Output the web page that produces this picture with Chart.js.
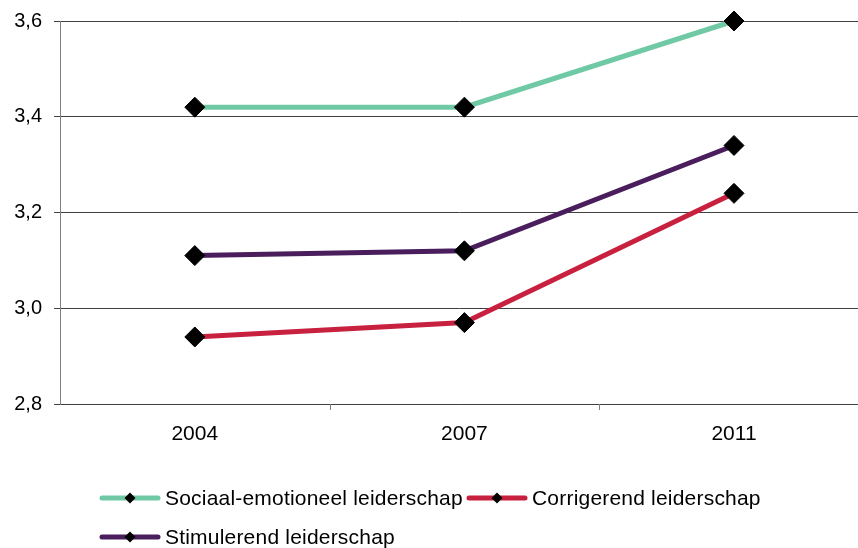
<!DOCTYPE html>
<html>
<head>
<meta charset="utf-8">
<script src="https://cdn.jsdelivr.net/npm/chart.js@4.4.1/dist/chart.umd.min.js"></script>
<style>
  html, body { margin: 0; padding: 0; background: #fff; overflow: hidden; }
  #wrap { position: relative; width: 858px; height: 548px; }
  #legend { position: absolute; left: 0; top: 0; width: 858px; height: 548px; pointer-events: none;
            font-family: "Liberation Sans", Arial, sans-serif; font-size: 21px; letter-spacing: 0.2px; color: #000; }
  .item { position: absolute; display: flex; align-items: center; white-space: nowrap; }
  .item canvas { margin-right: 4px; }
</style>
</head>
<body>
<div id="wrap">
  <canvas id="chart" width="858" height="548"></canvas>
  <div id="legend"></div>
</div>
<script>
// Survey years and mean scores per leadership style
const years = ['2004', '2007', '2011'];
const sociaalEmotioneel = [3.42, 3.42, 3.60];
const corrigerend = [2.94, 2.97, 3.24];
const stimulerend = [3.11, 3.12, 3.34];
const yTicks = [2.8, 3.0, 3.2, 3.4, 3.6];

const seriesNames = ['Sociaal-emotioneel leiderschap', 'Corrigerend leiderschap', 'Stimulerend leiderschap'];
const seriesColors = ['#6FC9A5', '#C8203F', '#4A1E5C'];
const seriesValues = [sociaalEmotioneel, corrigerend, stimulerend];

const FONT = '"Liberation Sans", Arial, sans-serif';

// years sit in the middle of equal-width slots; the last slot runs past the right edge
const X_MIN = -0.5;
const X_MAX = 2.46;

const datasets = seriesValues.map((vals, i) => ({
  label: seriesNames[i],
  data: vals.map((v, k) => ({ x: k, y: v })),
  borderColor: seriesColors[i],
  backgroundColor: '#000',
  borderWidth: 5,
  pointStyle: 'rectRot',
  pointRadius: 10,
  pointBorderWidth: 1,
  pointBorderColor: '#000',
  pointBackgroundColor: '#000',
  tension: 0,
  fill: false,
  clip: false
}));

// short tick marks on the category axis, between the year slots
const slotTicks = {
  id: 'slotTicks',
  afterDraw(chart) {
    const sx = chart.scales.x;
    const ctx = chart.ctx;
    const y0 = chart.chartArea.bottom;
    ctx.save();
    ctx.strokeStyle = '#808080';
    ctx.lineWidth = 1;
    for (let k = 0; k < years.length; k++) {
      const px = Math.round(sx.getPixelForValue(k + 0.5)) + 0.5;
      if (px > chart.width) continue;
      ctx.beginPath();
      ctx.moveTo(px, y0);
      ctx.lineTo(px, y0 + 6);
      ctx.stroke();
    }
    ctx.restore();
  }
};

new Chart(document.getElementById('chart'), {
  type: 'line',
  data: { datasets: datasets },
  plugins: [slotTicks],
  options: {
    responsive: false,
    animation: false,
    devicePixelRatio: 1,
    layout: { autoPadding: false, padding: { top: 21, right: 0, left: 0, bottom: 0 } },
    plugins: { legend: { display: false }, tooltip: { enabled: false } },
    scales: {
      x: {
        type: 'linear',
        min: X_MIN,
        max: X_MAX,
        afterBuildTicks: s => { s.ticks = years.map((_, k) => ({ value: k })); },
        grid: { display: true, drawOnChartArea: false, drawTicks: false },
        border: { display: true, color: '#404040', width: 1 },
        ticks: {
          color: '#000',
          font: { family: FONT, size: 21 },
          padding: 18,
          maxRotation: 0,
          autoSkip: false,
          callback: v => years[v]
        },
        afterFit: s => { s.height = 144; s.paddingLeft = 0; s.paddingRight = 0; }
      },
      y: {
        min: 2.8,
        max: 3.6,
        afterBuildTicks: s => { s.ticks = yTicks.map(v => ({ value: v })); },
        grid: { color: '#404040', tickLength: 6, lineWidth: 1 },
        border: { display: true, color: '#808080', width: 1 },
        ticks: {
          color: '#000',
          font: { family: FONT, size: 20 },
          padding: 12,
          callback: v => v.toFixed(1).replace('.', ',')
        },
        afterFit: s => { s.width = 60; s.paddingTop = 0; s.paddingBottom = 0; }
      }
    }
  }
});

// Legend: line swatch with a diamond marker, followed by the series name
function swatch(color) {
  const c = document.createElement('canvas');
  c.width = 62; c.height = 14;
  const g = c.getContext('2d');
  g.strokeStyle = color; g.lineWidth = 5; g.lineCap = 'round';
  g.beginPath(); g.moveTo(3, 7); g.lineTo(59, 7); g.stroke();
  g.fillStyle = '#000';
  g.beginPath(); g.moveTo(31, 1.5); g.lineTo(36.5, 7); g.lineTo(31, 12.5); g.lineTo(25.5, 7); g.closePath(); g.fill();
  return c;
}
const legendPos = [[99, 498], [466, 498], [99, 537]];
const legend = document.getElementById('legend');
seriesNames.forEach((name, i) => {
  const it = document.createElement('div');
  it.className = 'item';
  it.style.left = legendPos[i][0] + 'px';
  it.style.top = (legendPos[i][1] - 12) + 'px';
  it.style.height = '24px';
  it.appendChild(swatch(seriesColors[i]));
  const t = document.createElement('span');
  t.textContent = name;
  it.appendChild(t);
  legend.appendChild(it);
});
</script>
</body>
</html>
